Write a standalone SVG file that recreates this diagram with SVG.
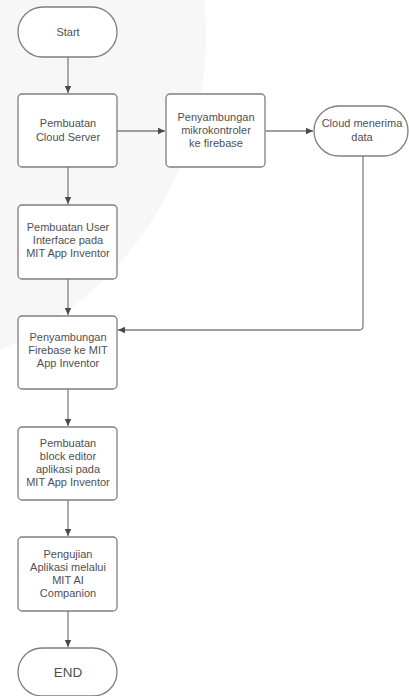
<svg xmlns="http://www.w3.org/2000/svg" width="409" height="696" viewBox="0 0 409 696">
<defs>
<style>
.box{fill:#ffffff;stroke:#7f7f7f;stroke-width:1.3}
.t{font-family:"Liberation Sans",Arial,sans-serif;font-size:11px;fill:#505050;text-anchor:middle}
.big{font-size:13.5px}
.c{fill:none;stroke:#7f7f7f;stroke-width:1.3}
</style>
<marker id="ah" markerWidth="8" markerHeight="8" refX="7" refY="4" orient="auto" markerUnits="userSpaceOnUse">
<path d="M0,0.8 L7,4 L0,7.2 Z" fill="#454a50"/>
</marker>
</defs>
<rect width="409" height="696" fill="#ffffff"/>
<circle cx="-136" cy="36" r="342" fill="#f7f7f7"/>
<g id="connectors">
<path class="c" d="M68,57 V93" marker-end="url(#ah)"/>
<path class="c" d="M68,167 V204" marker-end="url(#ah)"/>
<path class="c" d="M68,279 V315" marker-end="url(#ah)"/>
<path class="c" d="M68,389 V426" marker-end="url(#ah)"/>
<path class="c" d="M68,500 V536" marker-end="url(#ah)"/>
<path class="c" d="M68,611 V647" marker-end="url(#ah)"/>
<path class="c" d="M117,131 H165" marker-end="url(#ah)"/>
<path class="c" d="M266,131 H313" marker-end="url(#ah)"/>
<path class="c" d="M363,156 V326 Q363,330 359,330 H118" marker-end="url(#ah)"/>
</g>
<g id="start">
<rect class="box" x="18" y="7" width="99" height="50" rx="25"/>
<text class="t" x="68" y="36">Start</text>
</g>
<g id="cloud-server">
<rect class="box" x="18" y="94" width="99" height="73" rx="4"/>
<text class="t" x="68" y="127">Pembuatan</text>
<text class="t" x="68" y="141">Cloud Server</text>
</g>
<g id="mikrokontroler">
<rect class="box" x="166" y="94" width="99" height="73" rx="4"/>
<text class="t" x="216" y="121">Penyambungan</text>
<text class="t" x="216" y="134">mikrokontroler</text>
<text class="t" x="216" y="147">ke firebase</text>
</g>
<g id="cloud-data">
<rect class="box" x="314" y="106" width="94" height="50" rx="25"/>
<text class="t" x="362" y="127">Cloud menerima</text>
<text class="t" x="362" y="141">data</text>
</g>
<g id="user-interface">
<rect class="box" x="18" y="205" width="99" height="74" rx="4"/>
<text class="t" x="68" y="231">Pembuatan User</text>
<text class="t" x="68" y="244">Interface pada</text>
<text class="t" x="68" y="257">MIT App Inventor</text>
</g>
<g id="firebase-mit">
<rect class="box" x="18" y="316" width="99" height="73" rx="4"/>
<text class="t" x="68" y="341">Penyambungan</text>
<text class="t" x="68" y="354">Firebase ke MIT</text>
<text class="t" x="68" y="367">App Inventor</text>
</g>
<g id="block-editor">
<rect class="box" x="18" y="427" width="99" height="73" rx="4"/>
<text class="t" x="68" y="447">Pembuatan</text>
<text class="t" x="68" y="460">block editor</text>
<text class="t" x="68" y="473">aplikasi pada</text>
<text class="t" x="68" y="486">MIT App Inventor</text>
</g>
<g id="pengujian">
<rect class="box" x="18" y="537" width="99" height="74" rx="4"/>
<text class="t" x="68" y="558">Pengujian</text>
<text class="t" x="68" y="571">Aplikasi melalui</text>
<text class="t" x="68" y="584">MIT AI</text>
<text class="t" x="68" y="597">Companion</text>
</g>
<g id="end">
<rect class="box" x="18" y="648" width="99" height="48" rx="24"/>
<text class="t big" x="68" y="677">END</text>
</g>
</svg>
